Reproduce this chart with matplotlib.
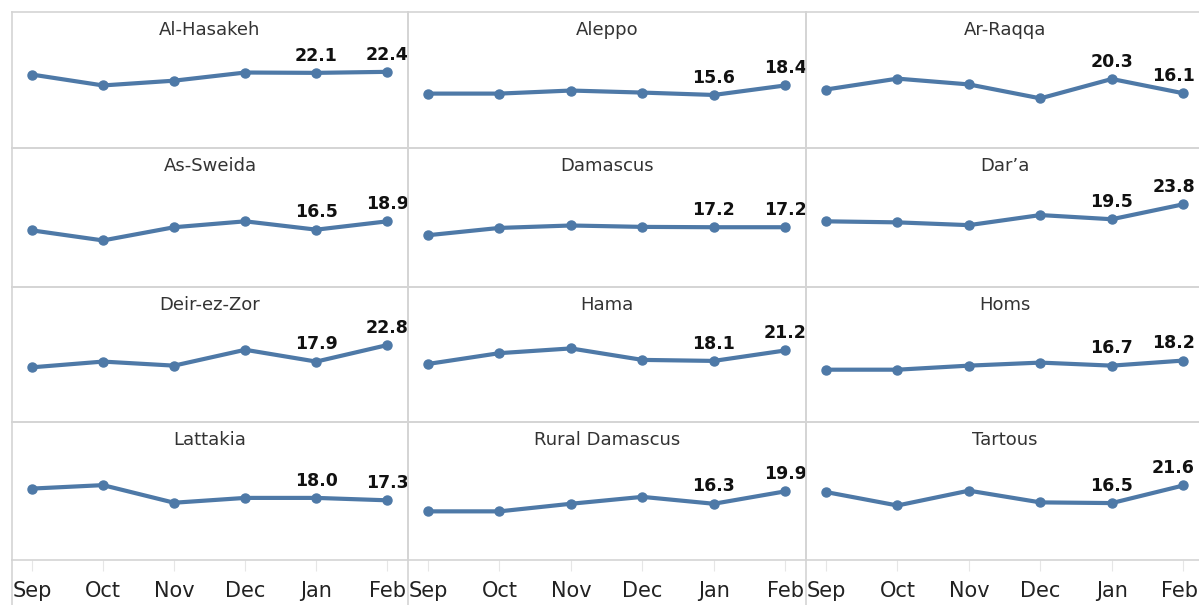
import matplotlib
matplotlib.use("Agg")
import matplotlib.pyplot as plt
from matplotlib.lines import Line2D
from matplotlib.transforms import ScaledTranslation

months = ["Sep", "Oct", "Nov", "Dec", "Jan", "Feb"]
regions = ["Al-Hasakeh", "Aleppo", "Ar-Raqqa",
           "As-Sweida", "Damascus", "Dar\u2019a",
           "Deir-ez-Zor", "Hama", "Homs",
           "Lattakia", "Rural Damascus", "Tartous"]

al_hasakeh = [21.6, 18.4, 19.8, 22.2, 22.1, 22.4]
aleppo = [16.0, 16.0, 16.9, 16.3, 15.6, 18.4]
ar_raqqa = [17.2, 20.4, 18.7, 14.6, 20.3, 16.1]
as_sweida = [16.3, 13.4, 17.2, 18.9, 16.5, 18.9]
damascus = [14.9, 17.0, 17.7, 17.3, 17.2, 17.2]
dara = [18.9, 18.6, 17.8, 20.7, 19.5, 23.8]
deir_ez_zor = [16.2, 17.9, 16.7, 21.4, 17.9, 22.8]
hama = [17.2, 20.4, 21.8, 18.4, 18.1, 21.2]
homs = [15.5, 15.5, 16.7, 17.6, 16.7, 18.2]
lattakia = [20.7, 21.7, 16.6, 18.0, 18.0, 17.3]
rural_damascus = [14.1, 14.1, 16.3, 18.3, 16.3, 19.9]
tartous = [19.7, 15.8, 20.1, 16.7, 16.5, 21.6]

series = [al_hasakeh, aleppo, ar_raqqa, as_sweida, damascus, dara,
          deir_ez_zor, hama, homs, lattakia, rural_damascus, tartous]

W, H = 1199, 605
fig = plt.figure(figsize=(W / 100, H / 100), dpi=100)
fig.patch.set_facecolor("white")

col_edges = [12, 408, 806, 1204]
row_edges = [12, 148, 287, 422, 560]
line_color = "#4e79a7"
grid_color = "#d4d4d4"

for i, (name, vals) in enumerate(zip(regions, series)):
    r, c = divmod(i, 3)
    x0, x1 = col_edges[c], col_edges[c + 1]
    y0, y1 = row_edges[r], row_edges[r + 1]
    ax = fig.add_axes([x0 / W, 1 - y1 / H, (x1 - x0) / W, (y1 - y0) / H])
    ax.plot(range(len(months)), vals, color=line_color, lw=3.0,
            marker="o", ms=6.5, solid_capstyle="round", clip_on=False)
    ax.set_xlim(-0.28, 5.29)
    ax.set_ylim(0, 40)
    ax.set_yticks([])
    for s in ax.spines.values():
        s.set_color(grid_color)
        s.set_linewidth(1.2)
    if c == 2:
        ax.spines["right"].set_visible(False)
    ax.set_facecolor("none")
    ax.text(0.5, 1 - 23 / (y1 - y0), name, transform=ax.transAxes,
            ha="center", va="baseline",
            fontsize=13, color="#333333", family="DejaVu Sans")
    for j in (4, 5):
        dx = -7 if (c == 2 and j == 5) else 0
        ax.annotate(f"{vals[j]:.1f}", (j, vals[j]), xytext=(dx, 6),
                    textcoords="offset points", ha="center", va="bottom",
                    fontsize=12.5, fontweight="bold", color="#111111",
                    family="DejaVu Sans")
    ax.set_xticks(range(len(months)))
    if r == 3:
        ax.set_xticklabels(months, fontsize=15, color="#222222",
                           family="DejaVu Sans")
        ax.tick_params(axis="x", length=8, color="#e6e6e6", pad=7)
        if c == 2:
            lbl = ax.get_xticklabels()[-1]
            lbl.set_transform(lbl.get_transform() +
                              ScaledTranslation(-4 / 100, 0, fig.dpi_scale_trans))
    else:
        ax.set_xticklabels([])
        ax.tick_params(axis="x", length=0)

# divider lines extending through the axis area
for x in col_edges[:3]:
    fig.add_artist(Line2D([x / W, x / W], [1 - 560 / H, 0], color=grid_color,
                          lw=1.2, transform=fig.transFigure))

fig.savefig("out.png", dpi=100)
